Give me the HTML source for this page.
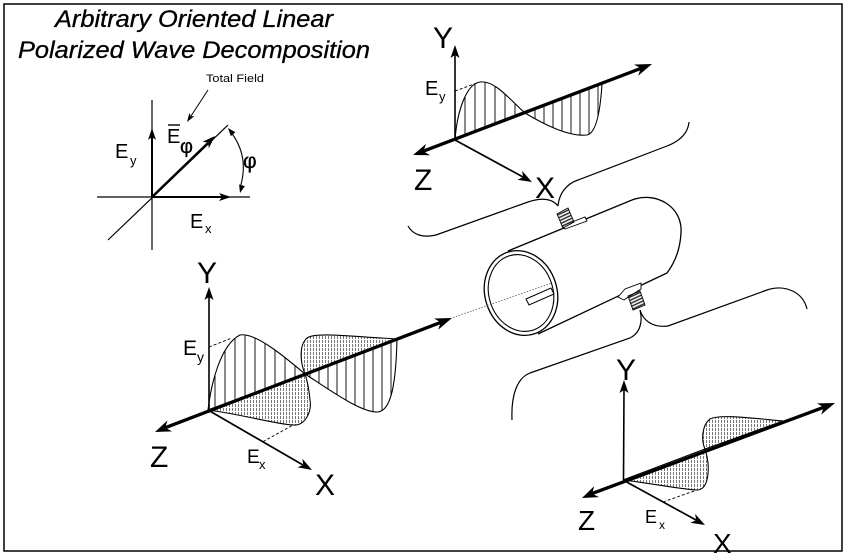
<!DOCTYPE html>
<html>
<head>
<meta charset="utf-8">
<style>
html,body{margin:0;padding:0;background:#fff;}
svg{display:block;}
text{font-family:"Liberation Sans",Arial,sans-serif;fill:#000;}
</style>
</head>
<body>
<svg width="850" height="556" viewBox="0 0 850 556" xmlns="http://www.w3.org/2000/svg">
<defs>
<pattern id="sp" width="10" height="10" patternUnits="userSpaceOnUse">
<line x1="5" y1="0" x2="5" y2="10" stroke="#000" stroke-width="0.9"/>
</pattern>
<pattern id="sp2" width="9" height="10" patternUnits="userSpaceOnUse">
<line x1="4" y1="0" x2="4" y2="10" stroke="#000" stroke-width="0.9"/>
</pattern>
<pattern id="dp" width="3" height="4" patternUnits="userSpaceOnUse">
<line x1="1.5" y1="0" x2="1.5" y2="3" stroke="#555" stroke-width="0.8"/>
</pattern>
<pattern id="kn" width="3" height="3" patternUnits="userSpaceOnUse" patternTransform="rotate(-25)">
<line x1="0" y1="1.5" x2="3" y2="1.5" stroke="#222" stroke-width="1.4"/>
</pattern>
</defs>
<rect x="0" y="0" width="850" height="556" fill="#fff"/>
<!-- frame -->
<rect x="4" y="4" width="838" height="547" fill="none" stroke="#000" stroke-width="1.5"/>

<!-- title -->
<text x="55" y="27" font-size="24" font-style="italic" stroke="#000" stroke-width="0.3" textLength="278" lengthAdjust="spacingAndGlyphs">Arbitrary Oriented Linear</text>
<text x="18" y="58" font-size="24" font-style="italic" stroke="#000" stroke-width="0.3" textLength="352" lengthAdjust="spacingAndGlyphs">Polarized Wave Decomposition</text>

<!-- small diagram -->
<text x="206" y="82" font-size="11" textLength="58" lengthAdjust="spacingAndGlyphs">Total Field</text>
<line x1="208" y1="90" x2="191" y2="116" stroke="#000" stroke-width="1"/>
<polygon points="187,122 194.4,116.1 190.8,116.2 189.4,112.9" fill="#000"/>

<line x1="152" y1="100" x2="152" y2="250" stroke="#000" stroke-width="1.2"/>
<line x1="152" y1="197" x2="152" y2="137" stroke="#000" stroke-width="2"/>
<polygon points="152,128 148,140 152,137 156,140" fill="#000"/>
<line x1="97" y1="197" x2="250" y2="197" stroke="#000" stroke-width="1.2"/>
<line x1="152" y1="197" x2="222" y2="197" stroke="#000" stroke-width="2"/>
<polygon points="231,197 219,193 222,197 219,201" fill="#000"/>
<line x1="108" y1="240" x2="228" y2="125" stroke="#000" stroke-width="1.2"/>
<line x1="152" y1="197" x2="208" y2="143" stroke="#000" stroke-width="2.4"/>
<polygon points="215,136 208.8,148.2 208.2,142.6 202.6,141.8" fill="#000"/>
<path d="M230,131 Q250,156 240,188" fill="none" stroke="#000" stroke-width="1.1"/>
<polygon points="228,128 235.4,132.3 230.8,136.1" fill="#000"/>
<polygon points="240,193 244.9,186.1 239.1,184.5" fill="#000"/>

<text x="115" y="158" font-size="20">E</text>
<text x="130" y="165" font-size="13">y</text>
<text x="167" y="143" font-size="20">E</text>
<line x1="168" y1="125" x2="180" y2="125" stroke="#000" stroke-width="1.4"/>
<text x="180" y="153" font-size="20" stroke="#000" stroke-width="0.3">φ</text>
<text x="243" y="168" font-size="21" stroke="#000" stroke-width="0.3">φ</text>
<text x="190" y="228" font-size="20">E</text>
<text x="205" y="233" font-size="13">x</text>

<!-- upper right wave -->
<path d="M455,140 C457,112 466,84 480,82 C495,80 510,100 525,113 Z" fill="url(#sp)" stroke="#000" stroke-width="1.1"/>
<path d="M525,113 C545,125 570,137 587,135 C598,133 601,100 602,84 Z" fill="url(#sp2)" stroke="#000" stroke-width="1.1"/>
<line x1="455" y1="91" x2="477" y2="83" stroke="#000" stroke-width="0.9" stroke-dasharray="3 2"/>
<line x1="455" y1="140" x2="455" y2="55" stroke="#000" stroke-width="1.6"/>
<polygon points="455,45 450.5,58 455,55 459.5,58" fill="#000"/>
<line x1="455" y1="140" x2="523" y2="177" stroke="#000" stroke-width="1.7"/>
<polygon points="532,182 517.3,179.7 523.2,177.2 522.1,170.9" fill="#000"/>
<line x1="423" y1="151.3" x2="641" y2="68.3" stroke="#000" stroke-width="3.3"/>
<polygon points="413,155 430.1,155.3 423.4,151.3 426.1,143.9" fill="#000"/>
<polygon points="652,64 638.2,75.7 640.8,68.3 634,64.5" fill="#000"/>
<text x="433" y="48" font-size="30">Y</text>
<text x="414" y="190" font-size="30">Z</text>
<text x="535" y="198" font-size="30">X</text>
<text x="425" y="95" font-size="20">E</text>
<text x="439" y="101" font-size="13">y</text>

<!-- cables upper -->
<path d="M408,226 C413,235 423,238 436,235 L528,202 C542,197 553,199 558,206" fill="none" stroke="#000" stroke-width="1.2"/>
<path d="M558,206 C559,194 566,184 578,180 L667,146 C680,141 688,133 689,122" fill="none" stroke="#000" stroke-width="1.2"/>

<!-- cylinder -->
<line x1="508" y1="251" x2="632" y2="200" stroke="#000" stroke-width="1.3"/>
<path d="M632,200 C655,191 683,206 681,233 C680,252 673,265 667,273" fill="none" stroke="#000" stroke-width="1.3"/>
<line x1="538" y1="334" x2="667" y2="273" stroke="#000" stroke-width="1.3"/>
<ellipse cx="521" cy="293" rx="36" ry="43" transform="rotate(-18 521 293)" fill="#fff" stroke="#000" stroke-width="1.3"/>
<ellipse cx="521" cy="293" rx="32" ry="39" transform="rotate(-18 521 293)" fill="#fff" stroke="#000" stroke-width="1.1"/>
<!-- top connector -->
<polygon points="562,226 585,217 587,221 565,229" fill="#fff" stroke="#000" stroke-width="0.9"/>
<polygon points="557,214 568,208 574,222 563,228" fill="url(#kn)" stroke="#000" stroke-width="0.9"/>
<!-- side connector -->
<polygon points="618,297 625,289 641,283 641,289 630,296 624,300" fill="#fff" stroke="#000" stroke-width="0.9"/>
<polygon points="628,296 640,291 645,305 633,310" fill="url(#kn)" stroke="#000" stroke-width="0.9"/>

<!-- cables lower -->
<path d="M640,310 C643,320 652,328 668,326 L767,290 C785,284 803,292 807,309" fill="none" stroke="#000" stroke-width="1.2"/>
<path d="M640,310 C643,322 640,333 630,338 L530,373 C517,378 511,395 512,420" fill="none" stroke="#000" stroke-width="1.2"/>

<!-- main wave -->
<path d="M208,410 C211,385 220,345 240,335 C255,332 285,357 305,374 Z" fill="url(#sp)" stroke="#000" stroke-width="1.1"/>
<path d="M208,410 C240,414 275,424 293,425 C305,426 312,412 310,400 C309,390 307,380 305,374 Z" fill="url(#dp)" stroke="#000" stroke-width="1.1"/>
<path d="M305,374 C300,362 299,345 307,338 C315,332 345,336 397,339 Z" fill="url(#dp)" stroke="#000" stroke-width="1.1"/>
<path d="M305,374 C330,390 360,412 377,412 C392,412 396,380 397,339 Z" fill="url(#sp2)" stroke="#000" stroke-width="1.1"/>
<line x1="209" y1="347" x2="232" y2="338" stroke="#000" stroke-width="0.9" stroke-dasharray="3 2"/>
<line x1="263" y1="441.7" x2="293" y2="425" stroke="#000" stroke-width="0.9" stroke-dasharray="3 2"/>
<line x1="209" y1="410" x2="209" y2="297" stroke="#000" stroke-width="1.6"/>
<polygon points="209,287 204.5,300 209,297 213.5,300" fill="#000"/>
<line x1="208" y1="410" x2="303" y2="465" stroke="#000" stroke-width="1.7"/>
<polygon points="312,470 297.4,467.3 303.3,465 302.4,458.7" fill="#000"/>
<line x1="165" y1="427.8" x2="441" y2="322.3" stroke="#000" stroke-width="3.3"/>
<polygon points="155,432 172.1,431.4 165.2,427.8 167.5,420.4" fill="#000"/>
<polygon points="452,318 438.2,329.7 440.8,322.3 434,318.5" fill="#000"/>
<line x1="453" y1="317.5" x2="552" y2="283" stroke="#555" stroke-width="0.8" stroke-dasharray="1.5 1.5"/>
<!-- probe pin -->
<polygon points="526,299 551,288 554,294 529,305" fill="#fff" stroke="#000" stroke-width="1"/>
<text x="197" y="283" font-size="30">Y</text>
<text x="150" y="467" font-size="30">Z</text>
<text x="315" y="495" font-size="30">X</text>
<text x="183" y="355" font-size="21">E</text>
<text x="197" y="362" font-size="14">y</text>
<text x="247" y="463" font-size="19">E</text>
<text x="259" y="469" font-size="13">x</text>

<!-- lower right wave -->
<path d="M623,480 C650,483 685,490 697,490 C707,490 709,475 708,463 C707,455 706,452 705,449 Z" fill="url(#dp)" stroke="#000" stroke-width="1.1"/>
<path d="M705,449 C701,440 702,425 710,419 C720,414 750,418 783,421 Z" fill="url(#dp)" stroke="#000" stroke-width="1.1"/>
<line x1="663" y1="502" x2="697" y2="490" stroke="#000" stroke-width="0.9" stroke-dasharray="3 2"/>
<line x1="623.5" y1="480" x2="624" y2="390" stroke="#000" stroke-width="1.6"/>
<polygon points="624,380 619.5,393 624,390 628.5,393" fill="#000"/>
<line x1="623" y1="480" x2="696" y2="520" stroke="#000" stroke-width="1.7"/>
<polygon points="705,525 690.3,522.7 696.2,520.2 695.1,513.9" fill="#000"/>
<line x1="592" y1="493.6" x2="824" y2="407.2" stroke="#000" stroke-width="3.3"/>
<polygon points="582,498 599,497.1 592.1,493.6 594.2,486.1" fill="#000"/>
<polygon points="835,403 821.2,414.6 823.8,407.2 817,403.4" fill="#000"/>
<text x="616" y="380" font-size="30">Y</text>
<text x="578" y="530" font-size="28">Z</text>
<text x="713" y="553" font-size="28">X</text>
<text x="645" y="523" font-size="18">E</text>
<text x="659" y="529" font-size="12">x</text>
</svg>
</body>
</html>
